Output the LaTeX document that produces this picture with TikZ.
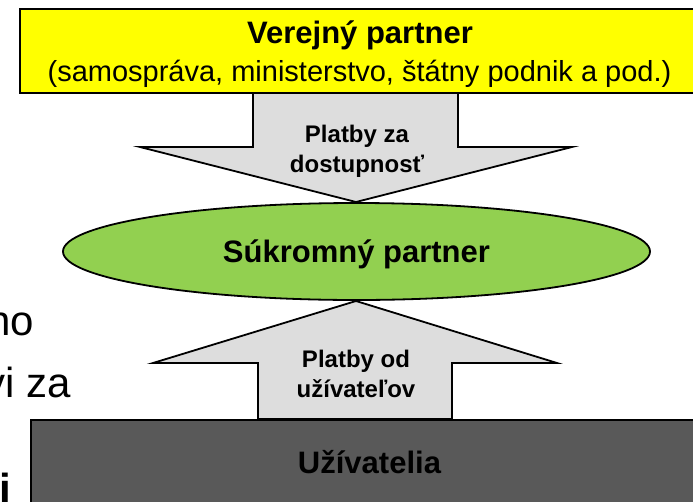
\documentclass[tikz,border=0pt]{standalone}
\usepackage{fontspec}
\setmainfont{Liberation Sans}
\usetikzlibrary{shapes.geometric,positioning}

\definecolor{publicyellow}{HTML}{FFFF00}
\definecolor{privategreen}{HTML}{92D050}
\definecolor{paygray}{HTML}{DDDDDD}
\definecolor{usergray}{HTML}{595959}

\tikzset{
    partybox/.style={draw=black, line width=1.8pt, rectangle, inner sep=0pt, anchor=north west},
    payarrow/.style={draw=black, line width=1.8pt, fill=paygray, line join=miter},
    bigbold/.style={font=\fontsize{31}{36}\selectfont\bfseries},
    paylabel/.style={font=\fontsize{24}{30}\selectfont\bfseries, align=center},
    backtext/.style={font=\fontsize{42}{50}\selectfont, anchor=base east, inner sep=0pt}
}

\begin{document}
\begin{tikzpicture}[x=1pt,y=-1pt]
    \useasboundingbox (0,0) rectangle (693,501);

    % Text of the slide behind the diagram
    \node[backtext] (restno) at (34,335) {no};
    \node[backtext] (restza) at (71,397) {vi za};
    \node[backtext, font=\fontsize{42}{50}\selectfont\bfseries] (resti) at (11,503) {i};

    % Payment arrows
    \coordinate (downtip) at (356,202);
    \coordinate (uptip) at (356,301);
    \draw[payarrow] (253,92) |- (140,147) -- (downtip) -- (572,147) -| (458,92) -- cycle;
    \draw[payarrow] (258,419) |- (153,363) -- (uptip) -- (557,363) -| (452,419) -- cycle;

    % Public partner
    \node[partybox, fill=publicyellow, minimum width=690, minimum height=84] (verejny) at (19,8) {};
    \node[bigbold, anchor=base] (verejnytitle) at (360,43) {Verejný partner};
    \node[font=\fontsize{29}{34}\selectfont, anchor=base] (verejnysub) at (359.5,81.5)
        {(samospráva, ministerstvo, štátny podnik a pod.)};

    % Private partner
    \node[ellipse, draw=black, line width=1.8pt, fill=privategreen,
          minimum width=587, minimum height=97, bigbold, text height=22, text depth=0]
          (sukromny) at (356.5,251.5) {Súkromný partner};

    % Users
    \node[partybox, fill=usergray, minimum width=700, minimum height=120] (uzivatelia) at (30,419) {};
    \node[bigbold, anchor=base] (uzivateliatext) at (369.5,473) {Užívatelia};

    % Labels of the payments
    \node[paylabel] (platbyza) at (357,151) {Platby za\\dostupnosť};
    \node[paylabel] (platbyod) at (356,374) {Platby od\\užívateľov};
\end{tikzpicture}
\end{document}
